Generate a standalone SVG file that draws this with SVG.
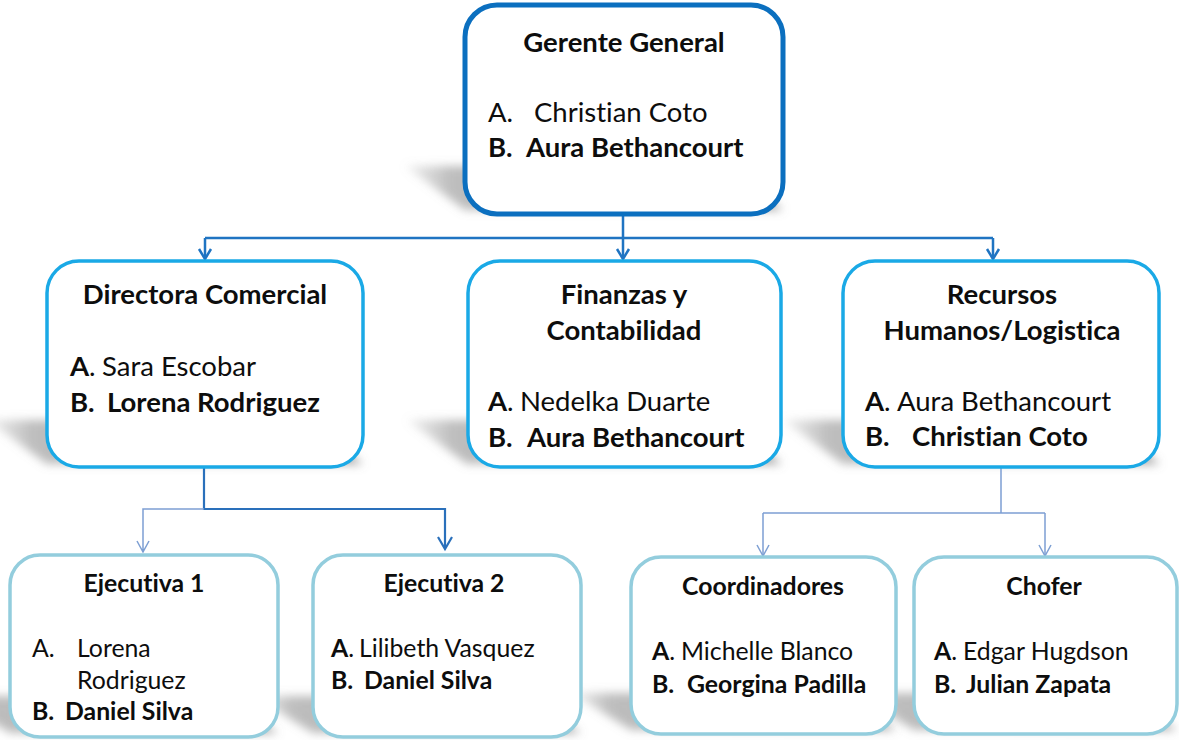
<svg xmlns="http://www.w3.org/2000/svg" width="1179" height="740" viewBox="0 0 1179 740">
<defs>
<style>
.t{font-family:Lato,"Liberation Sans",sans-serif;fill:#0d0d0d;font-variant-ligatures:none;font-feature-settings:"liga" 0}
.b{font-weight:700}
.m{font-size:27.5px}
.s{font-size:24.8px}
.box0{fill:#fff;stroke:#0b6fbf;stroke-width:5}
.box1{fill:#fff;stroke:#1aa9e6;stroke-width:3.5}
.box2{fill:#fff;stroke:#93cddd;stroke-width:3.5}
.sh{fill:url(#shg);filter:url(#blur)}
.c0{fill:none;stroke:#1f74c2;stroke-width:2.5}
.c1{fill:none;stroke:#2a70bb;stroke-width:2.2}
.c2{fill:none;stroke:#7d9fd3;stroke-width:1.5}
</style>
<linearGradient id="shg" x1="0" y1="0" x2="1" y2="0">
<stop offset="0" stop-color="#999" stop-opacity="0.15"/>
<stop offset="0.12" stop-color="#888" stop-opacity="0.55"/>
<stop offset="1" stop-color="#777" stop-opacity="0.7"/>
</linearGradient>
<filter id="blur" x="-20%" y="-50%" width="140%" height="200%"><feGaussianBlur stdDeviation="5"/></filter>
</defs>
<rect width="1179" height="740" fill="#fff"/>

<g id="shadows">
<polygon class="sh" points="405,166 723,166 783,210 465,210"/>
<polygon class="sh" points="-13,420 303,420 363,464 47,464"/>
<polygon class="sh" points="407,420 722,420 782,464 467,464"/>
<polygon class="sh" points="783,420 1100,420 1160,464 843,464"/>
<polygon class="sh" points="-50,696 218,696 278,733 10,733"/>
<polygon class="sh" points="253,696 521,696 581,733 313,733"/>
<polygon class="sh" points="571,693 836,693 896,730 631,730"/>
<polygon class="sh" points="854,693 1117,693 1177,730 914,730"/>
</g>

<g id="connectors">
<path class="c0" d="M623,215 V238 M205,238 H993 M623,238 V258 M205,238 V258 M993,238 V258"/>
<path class="c0" d="M617,249 L623,259 L629,249 M199,249 L205,259 L211,249 M987,249 L993,259 L999,249"/>
<path class="c1" d="M204,468 V509 H445 V548"/>
<path class="c1" d="M438,537 L445,549 L452,537" stroke-width="2.6"/>
<path class="c2" d="M204,509 H143 V551 M137,541 L143,552 L149,541" stroke-width="1.3"/>
<path class="c2" d="M1001,468 V513 M763,513 H1045 M763,513 V555 M1045,513 V555"/>
<path class="c2" d="M757,545 L763,556 L769,545 M1039,545 L1045,556 L1051,545"/>
</g>

<g id="gerente">
<rect class="box0" x="465" y="5" width="318" height="209" rx="32"/>
<text class="t m b" x="624" y="52" text-anchor="middle">Gerente General</text>
<text class="t m" y="122"><tspan x="488">A.</tspan><tspan x="534">Christian Coto</tspan></text>
<text class="t m b" y="157"><tspan x="488">B.</tspan><tspan x="526">Aura Bethancourt</tspan></text>
</g>

<g id="directora">
<rect class="box1" x="47" y="261" width="316" height="206" rx="32"/>
<text class="t m b" x="205" y="304" text-anchor="middle">Directora Comercial</text>
<text class="t m" y="376"><tspan x="70" class="b">A</tspan><tspan>.</tspan><tspan x="102">Sara Escobar</tspan></text>
<text class="t m b" y="412"><tspan x="70">B.</tspan><tspan x="107">Lorena Rodriguez</tspan></text>
</g>

<g id="finanzas">
<rect class="box1" x="468" y="261" width="313" height="206" rx="32"/>
<text class="t m b" x="624" y="304" text-anchor="middle">Finanzas y</text>
<text class="t m b" x="624" y="340" text-anchor="middle">Contabilidad</text>
<text class="t m" y="411"><tspan x="488" class="b">A</tspan><tspan>.</tspan><tspan x="520">Nedelka Duarte</tspan></text>
<text class="t m b" y="447"><tspan x="488">B.</tspan><tspan x="527">Aura Bethancourt</tspan></text>
</g>

<g id="recursos">
<rect class="box1" x="843" y="261" width="316" height="206" rx="32"/>
<text class="t m b" x="1002" y="304" text-anchor="middle">Recursos</text>
<text class="t m b" x="1002" y="340" text-anchor="middle">Humanos/Logistica</text>
<text class="t m" y="411"><tspan x="865" class="b">A</tspan><tspan>.</tspan><tspan x="897">Aura Bethancourt</tspan></text>
<text class="t m b" y="446"><tspan x="865">B.</tspan><tspan x="912">Christian Coto</tspan></text>
</g>

<g id="ejecutiva1">
<rect class="box2" x="10" y="555" width="268" height="182" rx="30"/>
<text class="t s b" x="144" y="592" text-anchor="middle">Ejecutiva 1</text>
<text class="t s" y="657"><tspan x="32">A.</tspan><tspan x="77">Lorena</tspan></text>
<text class="t s" x="77" y="689">Rodriguez</text>
<text class="t s b" y="720"><tspan x="32">B.</tspan><tspan x="65">Daniel Silva</tspan></text>
</g>

<g id="ejecutiva2">
<rect class="box2" x="313" y="555" width="268" height="182" rx="30"/>
<text class="t s b" x="444" y="592" text-anchor="middle">Ejecutiva 2</text>
<text class="t s" y="657"><tspan x="331" class="b">A</tspan><tspan>.</tspan><tspan x="359">Lilibeth Vasquez</tspan></text>
<text class="t s b" y="689"><tspan x="331">B.</tspan><tspan x="364">Daniel Silva</tspan></text>
</g>

<g id="coordinadores">
<rect class="box2" x="631" y="557" width="265" height="177" rx="30"/>
<text class="t s b" x="763" y="595" text-anchor="middle">Coordinadores</text>
<text class="t s" y="660"><tspan x="652" class="b">A</tspan><tspan>.</tspan><tspan x="681">Michelle Blanco</tspan></text>
<text class="t s b" y="693"><tspan x="652">B.</tspan><tspan x="687">Georgina Padilla</tspan></text>
</g>

<g id="chofer">
<rect class="box2" x="914" y="557" width="263" height="177" rx="30"/>
<text class="t s b" x="1044" y="595" text-anchor="middle">Chofer</text>
<text class="t s" y="660"><tspan x="934" class="b">A</tspan><tspan>.</tspan><tspan x="963">Edgar Hugdson</tspan></text>
<text class="t s b" y="693"><tspan x="934">B.</tspan><tspan x="966">Julian Zapata</tspan></text>
</g>
</svg>
